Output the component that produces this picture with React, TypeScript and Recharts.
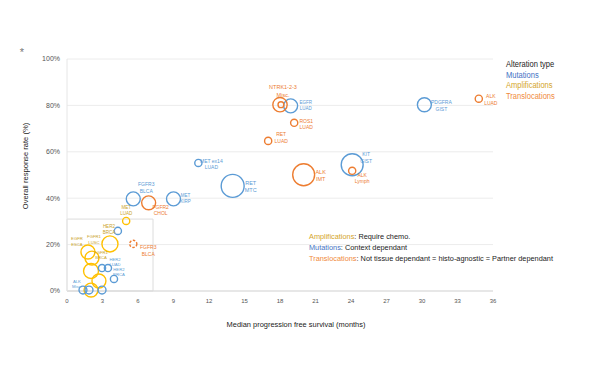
import { ScatterChart, Scatter, XAxis, YAxis, ZAxis, CartesianGrid, ReferenceArea } from 'recharts';

// pfs = median progression free survival (months), orr = overall response rate (%), n = bubble size
const MUTATIONS = [
  { name: 'PDGFRA GIST', pfs: 30.2, orr: 80.3, n: 34 },
  { name: 'EGFR LUAD', pfs: 18.9, orr: 79.8, n: 34 },
  { name: 'MET ex14 LUAD', pfs: 11.1, orr: 55.2, n: 9 },
  { name: 'KIT GIST', pfs: 24.1, orr: 54.4, n: 84 },
  { name: 'RET MTC', pfs: 14.0, orr: 45.3, n: 92 },
  { name: 'MET KIRP', pfs: 9.0, orr: 39.7, n: 34 },
  { name: 'FGFR3 BLCA', pfs: 5.6, orr: 39.7, n: 34 },
  { name: 'HER2 BRCA', pfs: 4.3, orr: 25.9, n: 9 },
  { name: 'HER2 LUAD', pfs: 2.96, orr: 9.9, n: 9 },
  { name: 'HER2 BRCA', pfs: 3.46, orr: 9.9, n: 9 },
  { name: '', pfs: 3.97, orr: 5.2, n: 9 },
  { name: 'ALK Misc.', pfs: 1.35, orr: 0.4, n: 11 },
  { name: '', pfs: 1.86, orr: 0.4, n: 11 },
  { name: '', pfs: 2.96, orr: 0.4, n: 11 },
];

const AMPLIFICATIONS = [
  { name: 'MET LUAD', pfs: 5.0, orr: 30.2, n: 9 },
  { name: 'FGFR1 LUSC', pfs: 3.63, orr: 20.3, n: 45 },
  { name: 'EGFR ESCA', pfs: 1.77, orr: 16.8, n: 34 },
  { name: 'FGFR1 BRCA', pfs: 2.11, orr: 14.2, n: 34 },
  { name: '', pfs: 2.03, orr: 8.6, n: 39 },
  { name: '', pfs: 2.7, orr: 4.3, n: 34 },
  { name: '', pfs: 2.03, orr: 0.4, n: 34 },
];

const TRANSLOCATIONS = [
  { name: 'ALK LUAD', pfs: 34.8, orr: 82.9, n: 9 },
  { name: 'NTRK1-2-3 Misc.', pfs: 18.0, orr: 80.3, n: 36 },
  { name: '', pfs: 18.08, orr: 80.3, n: 6 },
  { name: 'ROS1 LUAD', pfs: 19.2, orr: 72.5, n: 9 },
  { name: 'RET LUAD', pfs: 17.0, orr: 64.7, n: 9 },
  { name: 'ALK IMT', pfs: 20.0, orr: 50.1, n: 84 },
  { name: 'ALK Lymph', pfs: 24.1, orr: 51.8, n: 9 },
  { name: 'FGFR2 CHOL', pfs: 6.9, orr: 38.0, n: 34 },
];

// dashed bubble
const TRANSLOCATIONS_DASHED = [
  { name: 'FGFR3 BLCA', pfs: 5.6, orr: 20.3, n: 9 },
];

const X_TICKS = [0, 3, 6, 9, 12, 15, 18, 21, 24, 27, 30, 33, 36];
const Y_TICKS = [0, 20, 40, 60, 80, 100];

const BLUE = '#5B9BD5';
const GOLD = '#FFC000';
const GOLD_TEXT = '#C9A227';
const ORANGE = '#ED7D31';

// label offsets: [dx, dy of first line, line gap, font size, colour override]
type Place = [number, number, number, number, string?];
const MUT_PLACE: (Place | null)[] = [
  [17, -3, 7, 5], [15, -3, 6, 4.5], [13, -2, 6, 5], [14, -11, 7, 5], [18, -3, 7, 5.5],
  [12, -3, 5.5, 4.5], [13, -15, 7, 5], [-9, -4, 6, 4.5, GOLD_TEXT], [13, -9, 5, 4.2],
  [11, 1, 5, 4.2], null, [-6, -9, 5, 4.2], null, null,
];
const AMP_PLACE: (Place | null)[] = [
  [0, -13, 6, 4.5], [-16, -7, 6, 4.2], [-11, -14, 6, 4.2], [9, -6, 5, 4.2], null, null, null,
];
const TRANS_PLACE: (Place | null)[] = [
  [12, -3, 7, 5], [3, -18, 8, 5.5], null, [12, -2, 6, 5], [13, -7, 7, 5],
  [17, -3, 7, 5.5], [10, 4, 6, 5], [12, 4, 6, 5],
];
const DASHED_PLACE: (Place | null)[] = [[15, 3, 7, 5]];

type Pt = { name: string; pfs: number; orr: number; n: number };

function makeShape(data: Pt[], places: (Place | null)[], stroke: string, textColor: string, dashed = false) {
  // eslint-disable-next-line @typescript-eslint/no-explicit-any
  return (props: any) => {
    const { cx, cy, payload } = props;
    const r = props.size != null ? Math.sqrt(props.size / Math.PI) : props.width / 2;
    let i = data.indexOf(payload);
    if (i < 0) i = data.findIndex(d => d.pfs === payload?.pfs && d.orr === payload?.orr);
    const p = places[i];
    const lines = payload?.name ? payload.name.split(' ') : [];
    const two = lines.length > 2 ? [lines.slice(0, -1).join(' '), lines[lines.length - 1]] : lines;
    return (
      <g>
        <circle cx={cx} cy={cy} r={r} fill="none" stroke={stroke} strokeWidth={1.4}
          strokeDasharray={dashed ? '2.5 1.5' : undefined} />
        {p && two.map((t: string, k: number) => (
          <text key={k} x={cx + p[0]} y={cy + p[1] + k * p[2]} textAnchor="middle"
            dominantBaseline="central" fontSize={p[3]} fill={p[4] ?? textColor}
            fontFamily="'Liberation Sans', Arial, sans-serif">{t}</text>
        ))}
      </g>
    );
  };
}

const FONT = "'Liberation Sans', Arial, sans-serif";

export default function App() {
  return (
    <div style={{ position: 'absolute', left: 0, top: 0, width: 600, height: 365, background: '#fff' }}>
      <ScatterChart width={600} height={365} margin={{ top: 59, right: 107, bottom: 44, left: 0 }}>
        <CartesianGrid vertical={false} stroke="#ececec" />
        <XAxis type="number" dataKey="pfs" domain={[0, 36]} ticks={X_TICKS} height={30}
          tick={{ fill: '#555', fontSize: 6, fontFamily: 'Liberation Sans' }} tickLine={false}
          axisLine={{ stroke: '#d9d9d9' }} />
        <YAxis type="number" dataKey="orr" domain={[0, 100]} ticks={Y_TICKS} width={67}
          tickFormatter={(v: number) => `${v}%`} tickMargin={1}
          tick={{ fill: '#555', fontSize: 7, fontFamily: 'Liberation Sans' }} tickLine={false}
          axisLine={{ stroke: '#e6e6e6' }} />
        <ZAxis type="number" dataKey="n" domain={[0, 100]} range={[0, 450]} />
        <ReferenceArea x1={0} x2={7.27} y1={0} y2={31} fill="none" stroke="#dcdcdc" strokeWidth={1} />
        <Scatter data={AMPLIFICATIONS} isAnimationActive={false}
          shape={makeShape(AMPLIFICATIONS, AMP_PLACE, GOLD, GOLD_TEXT)} />
        <Scatter data={MUTATIONS} isAnimationActive={false}
          shape={makeShape(MUTATIONS, MUT_PLACE, BLUE, BLUE)} />
        <Scatter data={TRANSLOCATIONS} isAnimationActive={false}
          shape={makeShape(TRANSLOCATIONS, TRANS_PLACE, ORANGE, ORANGE)} />
        <Scatter data={TRANSLOCATIONS_DASHED} isAnimationActive={false}
          shape={makeShape(TRANSLOCATIONS_DASHED, DASHED_PLACE, ORANGE, ORANGE, true)} />
      </ScatterChart>

      <svg width={600} height={365} style={{ position: 'absolute', left: 0, top: 0, pointerEvents: 'none' }}>
        <text x={22} y={56} fontSize={11} fill="#777" textAnchor="middle" fontFamily="Liberation Sans">*</text>
        <g transform="translate(25,166) rotate(-90) scale(0.95,1)">
          <text textAnchor="middle" dominantBaseline="central" fontSize={8} fill="#222"
            fontFamily={FONT}>Overall response rate (%)</text>
        </g>
        <g transform="translate(296,324) scale(0.93,1)">
          <text textAnchor="middle" dominantBaseline="central" fontSize={8} fill="#222"
            fontFamily={FONT}>Median progression free survival (months)</text>
        </g>

        <g fontFamily={FONT} fontSize={9} transform="translate(506,0) scale(0.84,1)">
          <text x={0} y={64} dominantBaseline="central" fill="#222">Alteration type</text>
          <text x={0} y={75} dominantBaseline="central" fill="#4472C4">Mutations</text>
          <text x={0} y={85} dominantBaseline="central" fill="#D4A52A">Amplifications</text>
          <text x={0} y={96} dominantBaseline="central" fill="#F08A3C">Translocations</text>
        </g>

        <g fontFamily={FONT} fontSize={8} fill="#222" transform="translate(309,0) scale(0.92,1)">
          <text x={0} y={236} dominantBaseline="central">
            <tspan fill="#D4A52A">Amplifications</tspan>: Require chemo.
          </text>
          <text x={0} y={247} dominantBaseline="central">
            <tspan fill="#4472C4">Mutations</tspan>: Context dependant
          </text>
          <text x={0} y={258} dominantBaseline="central">
            <tspan fill="#F08A3C">Translocations</tspan>: Not tissue dependant = histo-agnostic = Partner dependant
          </text>
        </g>
      </svg>
    </div>
  );
}
